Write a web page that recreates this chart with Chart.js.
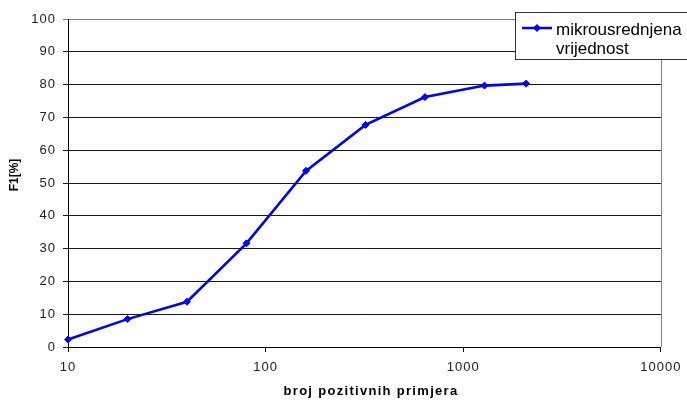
<!DOCTYPE html>
<html>
<head>
<meta charset="utf-8">
<script src="https://cdn.jsdelivr.net/npm/chart.js@4/dist/chart.umd.min.js"></script>
<style>
  html, body { margin: 0; padding: 0; background: #fff; }
  canvas { display: block; }
</style>
</head>
<body>
<canvas id="c" width="687" height="400"></canvas>
<script>
// Number of positive examples (log axis) and the resulting F1 score in percent
const positiveCounts = [10, 20, 40, 80, 160, 320, 640, 1280, 2080];
const f1Values = [2.3, 8.5, 13.8, 31.6, 53.7, 67.7, 76.2, 79.7, 80.3];
const xTickValues = [10, 100, 1000, 10000];
const seriesLabel = 'mikrousrednjena vrijednost';
const xTitle = 'broj pozitivnih primjera';
const yTitle = 'F1[%]';

const FONT = '"Liberation Sans", Arial, sans-serif';

// Extra drawing: tick letter spacing, plot frame, axis titles and the boxed legend
const decorations = {
  id: 'decorations',
  beforeDraw(chart) {
    chart.ctx.letterSpacing = '1px';
  },
  beforeDatasetsDraw(chart) {
    const { ctx, chartArea: a } = chart;
    ctx.save();
    ctx.strokeStyle = '#808080';
    ctx.lineWidth = 1;
    ctx.beginPath();
    ctx.moveTo(Math.round(a.right) + 0.5, a.top);
    ctx.lineTo(Math.round(a.right) + 0.5, a.bottom);
    ctx.stroke();
    ctx.restore();
  },
  afterDraw(chart) {
    const { ctx } = chart;
    const ds = chart.data.datasets[0];
    ctx.save();

    // x axis title
    ctx.letterSpacing = '1.3px';
    ctx.fillStyle = '#000';
    ctx.font = 'bold 13px ' + FONT;
    ctx.textAlign = 'center';
    ctx.textBaseline = 'middle';
    ctx.fillText(xTitle, 371, 391);

    // y axis title
    ctx.letterSpacing = '0px';
    ctx.save();
    ctx.translate(15, 175);
    ctx.rotate(-Math.PI / 2);
    ctx.font = 'bold 12px ' + FONT;
    ctx.fillText(yTitle, 0, 0);
    ctx.restore();

    // legend box
    ctx.fillStyle = '#fff';
    ctx.fillRect(516, 13, 200, 46);
    ctx.strokeStyle = '#333';
    ctx.lineWidth = 1;
    ctx.strokeRect(515.5, 12.5, 200, 47);

    // legend sample line with marker
    ctx.strokeStyle = ds.borderColor;
    ctx.lineWidth = 2.5;
    ctx.beginPath();
    ctx.moveTo(522, 28);
    ctx.lineTo(552, 28);
    ctx.stroke();
    ctx.fillStyle = ds.borderColor;
    ctx.beginPath();
    ctx.moveTo(537, 24);
    ctx.lineTo(541, 28);
    ctx.lineTo(537, 32);
    ctx.lineTo(533, 28);
    ctx.closePath();
    ctx.fill();

    // legend text on two lines
    ctx.fillStyle = '#000';
    ctx.font = '17px ' + FONT;
    ctx.textAlign = 'left';
    ctx.textBaseline = 'alphabetic';
    const words = ds.label.split(' ');
    ctx.fillText(words[0], 556, 34.5);
    ctx.fillText(words.slice(1).join(' '), 556, 53.5);

    ctx.restore();
  }
};

new Chart(document.getElementById('c'), {
  type: 'line',
  data: {
    datasets: [{
      label: seriesLabel,
      data: positiveCounts.map((x, i) => ({ x: x, y: f1Values[i] })),
      borderColor: '#0000FF',
      backgroundColor: '#0000FF',
      borderWidth: 2.6,
      tension: 0,
      pointStyle: 'rectRot',
      pointRadius: 3.5,
      pointBorderWidth: 1,
      pointBackgroundColor: '#0000FF',
      clip: false
    }]
  },
  options: {
    responsive: false,
    devicePixelRatio: 1,
    animation: false,
    layout: { padding: { top: 19, right: 24, left: 0, bottom: 0 } },
    plugins: {
      legend: { display: false },
      tooltip: { enabled: false }
    },
    scales: {
      x: {
        type: 'logarithmic',
        min: 10,
        max: 10000,
        afterBuildTicks(scale) {
          scale.ticks = xTickValues.map(v => ({ value: v }));
        },
        afterFit(scale) { scale.height = 53; },
        ticks: {
          color: '#222',
          font: { family: FONT, size: 13 },
          padding: 8,
          maxRotation: 0,
          autoSkip: false,
          callback: v => String(v)
        },
        grid: {
          display: true,
          drawOnChartArea: false,
          drawTicks: true,
          tickLength: 5,
          color: '#000'
        },
        border: { display: true, color: '#000', width: 1 }
      },
      y: {
        min: 0,
        max: 100,
        afterFit(scale) { scale.width = 68; },
        ticks: {
          stepSize: 10,
          color: '#222',
          font: { family: FONT, size: 13 },
          padding: 7
        },
        grid: {
          color: ctx => (ctx.tick && ctx.tick.value === 100 ? '#808080' : '#1a1a1a'),
          lineWidth: 1,
          tickLength: 5
        },
        border: { display: true, color: '#000', width: 1 }
      }
    }
  },
  plugins: [decorations]
});
</script>
</body>
</html>
